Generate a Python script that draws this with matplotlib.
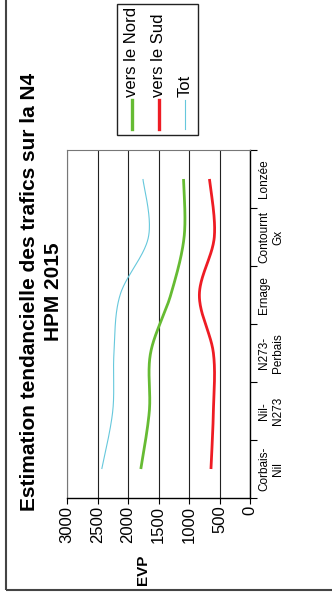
import numpy as np
import matplotlib
matplotlib.use("Agg")
import matplotlib.pyplot as plt
from matplotlib.patches import Rectangle
from matplotlib.lines import Line2D

plt.rcParams['font.family'] = ['Liberation Sans', 'DejaVu Sans']

# traffic at morning peak (EVP) per road section on the N4
sections = ["Corbais-\nNil", "Nil-\nN273", "N273-\nPerbais", "Ernage", "Contournt\nGx", "Lonzée"]
nord = [1790, 1650, 1630, 1300, 1080, 1090]
sud = [640, 600, 600, 830, 585, 665]
tot = [n + s for n, s in zip(nord, sud)]

series_names = ["vers le Nord", "vers le Sud", "Tot"]
series_colors = ["#66bb33", "#ee1c24", "#66c8dc"]
series_widths = [2.0, 2.0, 0.8]
value_ticks = [0, 500, 1000, 1500, 2000, 2500, 3000]


def smooth(xs, ys, n=40):
    # Bezier smoothing through every point, like a spreadsheet's "smoothed line"
    pts = np.column_stack([xs, ys]).astype(float)
    out = []
    for i in range(len(pts) - 1):
        p0 = pts[max(i - 1, 0)]
        p1 = pts[i]
        p2 = pts[i + 1]
        p3 = pts[min(i + 2, len(pts) - 1)]
        c1 = p1 + (p2 - p0) / 6
        c2 = p2 - (p3 - p1) / 6
        t = np.linspace(0, 1, n)[:, None]
        seg = (1 - t) ** 3 * p1 + 3 * (1 - t) ** 2 * t * c1 + 3 * (1 - t) * t ** 2 * c2 + t ** 3 * p2
        out.append(seg)
    return np.vstack(out)


W, H = 332, 596
fig = plt.figure(figsize=(W / 100, H / 100), dpi=100)

# the chart is laid out turned a quarter turn: values run along x, sections along y
ax = fig.add_axes([67 / W, 1 - 498 / H, (250 - 67) / W, (498 - 150) / H])
pos = np.arange(len(sections))
for vals, c, lw in zip([nord, sud, tot], series_colors, series_widths):
    curve = smooth(pos, vals)
    ax.plot(curve[:, 1], curve[:, 0], color=c, lw=lw, solid_capstyle='butt', zorder=3)

ax.set_xlim(3000, 0)
ax.set_ylim(-0.5, len(sections) - 0.5)
ax.set_xticks(value_ticks)
ax.set_xticklabels([str(v) for v in value_ticks], rotation=90, fontsize=12)
ax.tick_params(axis='x', length=4, width=0.8, pad=1.5, direction='out')
ax.grid(axis='x', color='#222222', lw=0.8)

ax.yaxis.tick_right()
ax.set_yticks(pos)
ax.set_yticklabels(sections, rotation=90, fontsize=8.5, va='center', ha='left', multialignment='center')
ax.set_yticks(np.arange(-0.5, len(sections)), minor=True)
ax.tick_params(axis='y', which='major', length=0, pad=6)
ax.tick_params(axis='y', which='minor', length=5, width=0.8, direction='out')

for side in ['bottom', 'right']:
    ax.spines[side].set_color('black')
    ax.spines[side].set_linewidth(1.0)
for side in ['top', 'left']:
    ax.spines[side].set_color('#777777')
    ax.spines[side].set_linewidth(0.8)

fig.text(41.5 / W, 1 - 292 / H, "Estimation tendancielle des trafics sur la N4\nHPM 2015",
         rotation=90, ha='center', va='center', multialignment='center',
         fontsize=15, fontweight='bold', linespacing=1.3)
fig.text(143 / W, 1 - 570 / H, "EVP", rotation=90, ha='center', va='center',
         fontsize=11, fontweight='bold')

# legend box with vertical entries
fig.patches.append(Rectangle((117 / W, 1 - 135 / H), (198 - 117) / W, (135 - 4) / H,
                             transform=fig.transFigure, fill=False, ec='#222222', lw=1.0))
for i, (name, c, lw) in enumerate(zip(series_names, series_colors, series_widths)):
    x = (132 + 26.5 * i) / W
    fig.lines.append(Line2D([x, x], [1 - 129 / H, 1 - 100 / H], transform=fig.transFigure,
                            color=c, lw=2.4 if lw > 1 else lw))
    fig.text(x, 1 - 97 / H, name, rotation=90, ha='center', va='bottom', fontsize=12)

# outer frame
fig.patches.append(Rectangle((6 / W, 1 - 590 / H), 2, 2, transform=fig.transFigure,
                             fill=False, ec='#444444', lw=1.5))

fig.savefig("out.png", dpi=100)
